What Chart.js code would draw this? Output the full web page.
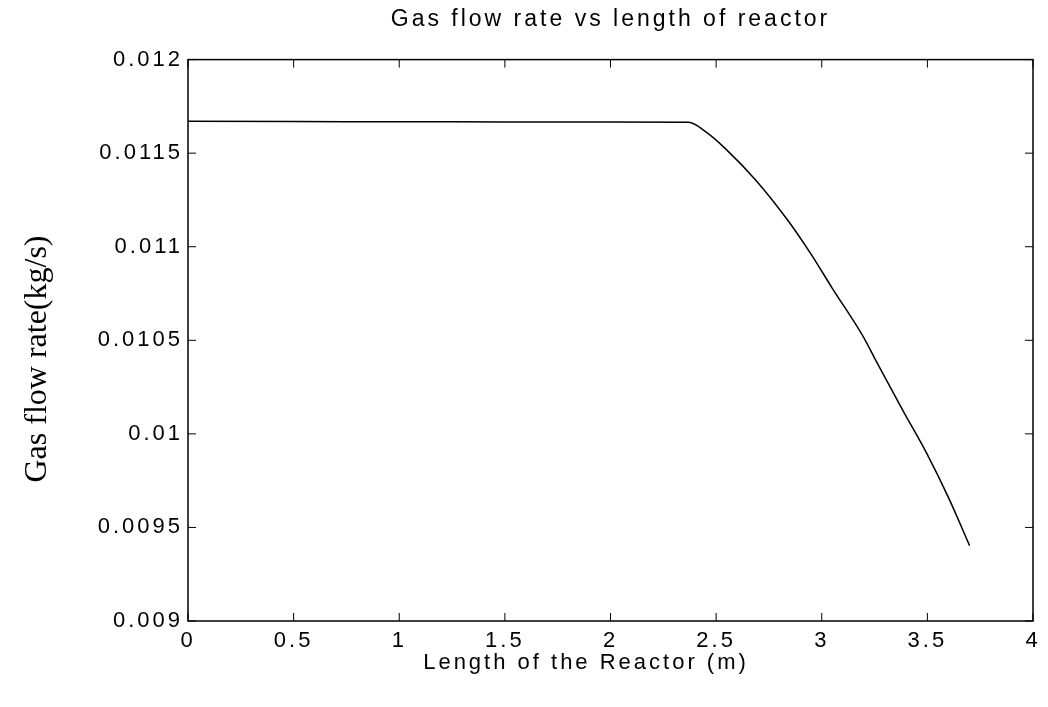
<!DOCTYPE html>
<html>
<head>
<meta charset="utf-8">
<script src="https://cdn.jsdelivr.net/npm/chart.js@4/dist/chart.umd.min.js"></script>
<style>
html, body { margin: 0; padding: 0; background: #fff; }
canvas { display: block; }
</style>
</head>
<body>
<canvas id="reactorChart" width="1048" height="707"></canvas>
<script>
// values: length along reactor (m) vs gas flow rate (kg/s)
const lengthM = [0, 0.5, 1, 1.5, 2, 2.37, 2.45, 2.545, 2.69, 2.84, 2.95, 3.05, 3.195, 3.25, 3.385, 3.5, 3.6, 3.7]
const gasFlow = [0.01167, 0.011669, 0.011668, 0.011667, 0.011666, 0.011665, 0.011615, 0.011523, 0.011353, 0.01114, 0.010959, 0.010778, 0.010522, 0.010405, 0.010123, 0.009889, 0.009659, 0.009403]
const xTicks = [0, 0.5, 1, 1.5, 2, 2.5, 3, 3.5, 4]
const yTicks = [0.009, 0.0095, 0.01, 0.0105, 0.011, 0.0115, 0.012]

const titleText = 'Gas flow rate vs length of reactor'
const xTitle = 'Length of the Reactor (m)'
const yTitle = 'Gas flow rate(kg/s)'

const sans = '"Liberation Sans", Arial, sans-serif'

let points = []
for (let i = 0; i < lengthM.length; i++) {
    points.push({x: lengthM[i], y: gasFlow[i]})
}

// matlab style box with inward ticks, plus the axis titles
const boxTicks = {
    id: 'boxTicks',
    beforeDraw(chart) {
        chart.ctx.letterSpacing = '3px'
    },
    afterDraw(chart) {
        const ctx = chart.ctx
        const a = chart.chartArea
        const sx = chart.scales.x
        const sy = chart.scales.y
        ctx.save()
        ctx.strokeStyle = '#000'
        ctx.lineWidth = 1.5
        ctx.strokeRect(a.left, a.top, a.right - a.left, a.bottom - a.top)
        ctx.lineWidth = 1
        ctx.beginPath()
        for (let i = 0; i < xTicks.length; i++) {
            let px = sx.getPixelForValue(xTicks[i])
            ctx.moveTo(px, a.bottom); ctx.lineTo(px, a.bottom - 8)
            ctx.moveTo(px, a.top); ctx.lineTo(px, a.top + 8)
        }
        for (let i = 0; i < yTicks.length; i++) {
            let py = sy.getPixelForValue(yTicks[i])
            ctx.moveTo(a.left, py); ctx.lineTo(a.left + 8, py)
            ctx.moveTo(a.right, py); ctx.lineTo(a.right - 8, py)
        }
        ctx.stroke()

        ctx.fillStyle = '#000'
        ctx.textAlign = 'center'
        ctx.textBaseline = 'middle'
        ctx.font = '22px ' + sans
        ctx.fillText(xTitle, 586, 663)

        ctx.letterSpacing = '0px'
        ctx.font = '32px "Liberation Serif", "Times New Roman", serif'
        ctx.translate(38, 359)
        ctx.rotate(-Math.PI / 2)
        ctx.fillText(yTitle, 0, 0)
        ctx.restore()
    }
}

new Chart(document.getElementById('reactorChart'), {
    type: 'scatter',
    data: {
        datasets: [{
            data: points,
            showLine: true,
            borderColor: '#000',
            borderWidth: 1.5,
            pointRadius: 0,
            cubicInterpolationMode: 'monotone',
            fill: false
        }]
    },
    options: {
        responsive: false,
        animation: false,
        events: [],
        layout: {padding: {left: 0, right: 15, top: 0, bottom: 0}},
        plugins: {
            legend: {display: false},
            tooltip: {enabled: false},
            title: {
                display: true,
                text: titleText,
                color: '#000',
                fullSize: false,
                font: {family: sans, size: 23, weight: 'normal'},
                padding: {top: 6, bottom: 26}
            }
        },
        scales: {
            x: {
                type: 'linear',
                min: 0,
                max: 4,
                afterBuildTicks: (scale) => { scale.ticks = xTicks.map(v => ({value: v})) },
                afterFit: (scale) => { scale.height = 86 },
                grid: {display: false, drawTicks: false},
                border: {display: false},
                ticks: {
                    color: '#000',
                    padding: 7,
                    maxRotation: 0,
                    autoSkip: false,
                    font: {family: sans, size: 22},
                    callback: (v) => String(v)
                }
            },
            y: {
                type: 'linear',
                min: 0.009,
                max: 0.012,
                afterBuildTicks: (scale) => { scale.ticks = yTicks.map(v => ({value: v})) },
                afterFit: (scale) => { scale.width = 188 },
                grid: {display: false, drawTicks: false},
                border: {display: false},
                ticks: {
                    color: '#000',
                    padding: 5,
                    autoSkip: false,
                    font: {family: sans, size: 22},
                    callback: (v) => String(v)
                }
            }
        }
    },
    plugins: [boxTicks]
})
</script>
</body>
</html>
